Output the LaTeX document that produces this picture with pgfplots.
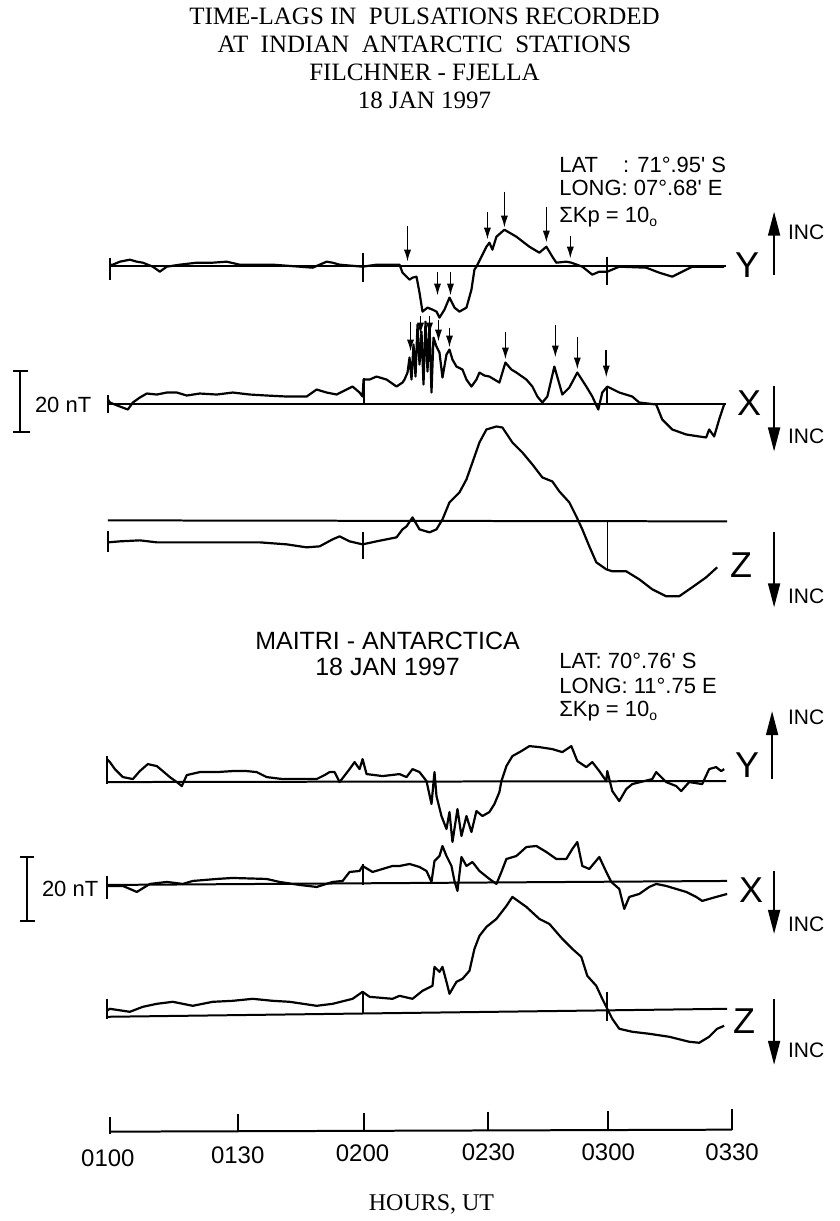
\documentclass[border=0pt]{standalone}
\usepackage{fontspec}
\setmainfont{Liberation Serif}
\newfontfamily\hv{Liberation Sans}
\usepackage{pgfplots}
\pgfplotsset{compat=1.18}
\usetikzlibrary{arrows.meta}

\newcommand{\kp}{ΣKp = 10\raisebox{-0.35ex}{\fontsize{7}{7}\selectfont o}}

\tikzset{
  trace/.style={black, line width=1.1pt, line join=round},
  base/.style={black, line width=1pt},
  arr/.style={black, line width=0.8pt, -{Latex[length=6pt,width=3.6pt]}},
  big/.style={black, line width=0.9pt, -{Triangle[length=12pt,width=6pt]}},
  ttl/.style={font=\fontsize{12.5}{14}\selectfont},
  lab/.style={font=\hv\fontsize{11}{13}\selectfont, anchor=west},
  xyz/.style={font=\hv\fontsize{18}{20}\selectfont},
  inc/.style={font=\hv\fontsize{10.5}{12}\selectfont, anchor=west},
  hr/.style={font=\hv\fontsize{12}{14}\selectfont},
}

\begin{document}
\begin{tikzpicture}
\begin{axis}[
  scale only axis, width=420pt, height=610.5pt,
  xmin=0, xmax=840, ymin=0, ymax=1221, y dir=reverse,
  hide axis, clip=false, every axis plot/.append style={no markers},
]
% frame of the page (pixel units, y downwards)
\addplot[draw=none] coordinates {(0,0) (840,1221)};

% ---------------- FILCHNER ----------------
% Y
\addplot[base] coordinates {(110,266) (727,266)};
\addplot[base] coordinates {(110,258) (110,280)};
\addplot[base] coordinates {(363,253) (363,282)};
\addplot[base] coordinates {(608,257) (608,285)};
\addplot[trace] coordinates {
(110,265) (113,265) (120,262) (130,260) (137,262) (143,263) (153,267) (160,272)
(167,267) (180,265) (197,263) (213,263) (227,262) (240,265) (273,265) (300,267)
(313,268) (320,265) (327,262) (333,263) (340,265) (363,267) (377,265) (400,265)
(403,273) (408,278) (410,280) (413,278) (417,277) (420,293) (423,312) (428,308)
(433,310) (437,312) (440,318) (445,310) (450,298) (455,308) (460,312) (467,308)
(472,290) (475,270) (477,267) (482,257) (487,247) (490,243) (493,250) (497,237)
(505,230) (517,237) (530,247) (540,253) (547,247) (553,257) (557,263) (567,262)
(572,263) (583,267) (593,275) (600,272) (608,272) (620,267) (647,268) (660,273)
(673,277) (683,272) (693,267) (725,267)};
% X
\addplot[base] coordinates {(108,404) (727,404)};
\addplot[base] coordinates {(108,395) (108,413)};
\addplot[base] coordinates {(364,378) (364,404)};
\addplot[base] coordinates {(608,387) (608,404)};
\addplot[trace] coordinates {
(108,400) (110,403) (120,407) (128,410) (133,403) (140,398) (147,394) (157,395)
(167,393) (177,393) (187,396) (200,394) (217,395) (233,393) (250,395) (267,396)
(287,397) (307,397) (317,390) (327,393) (337,395) (347,390) (353,387) (360,393)
(363,397) (364,380) (370,380) (377,377) (387,380) (397,387) (403,383) (405,380)
(408,373) (410,358) (412,380) (414,345) (416,377) (418,325) (420,365) (422,332)
(424,385) (426,322) (428,372) (430,324) (432,393) (434,338) (437,347) (440,353)
(443,378) (447,355) (450,350) (453,360) (457,367) (463,370) (467,380) (472,387)
(477,380) (480,373) (485,376) (490,377) (500,383) (506,363) (512,370) (517,373)
(527,380) (533,387) (538,397) (543,403) (548,397) (555,367) (563,395) (570,388)
(578,373) (587,387) (593,397) (599,410) (603,393) (608,387) (620,393) (633,397)
(640,403) (657,405) (663,420) (673,430) (687,435) (700,437) (707,438) (710,430)
(715,437) (720,420) (725,405)};
% Z
\addplot[base] coordinates {(108,521) (728,522)};
\addplot[base] coordinates {(108,532) (108,553)};
\addplot[base] coordinates {(363,533) (363,560)};
\addplot[black, line width=0.6pt] coordinates {(608,523) (608,572)};
\addplot[trace] coordinates {
(108,543) (120,542) (140,541) (157,543) (180,543) (207,543) (233,543) (260,543)
(287,545) (307,548) (320,547) (333,540) (340,537) (350,542) (363,545) (377,542)
(397,538) (403,530) (407,527) (413,518) (420,530) (430,533) (437,530) (443,520)
(450,503) (460,493) (467,480) (473,463) (480,443) (487,430) (497,427) (503,428)
(513,443) (523,453) (533,465) (543,478) (553,482) (560,492) (570,503) (577,517)
(583,530) (590,547) (597,563) (607,570) (613,572) (627,572) (640,580) (653,590)
(667,597) (680,597) (693,588) (707,578) (718,568)};
% pulsation arrows
\addplot[arr] coordinates {(408,226) (408,262)};
\addplot[arr] coordinates {(438,272) (438,296)};
\addplot[arr] coordinates {(451,272) (451,296)};
\addplot[arr] coordinates {(488,212) (488,240)};
\addplot[arr] coordinates {(505,192) (505,228)};
\addplot[arr] coordinates {(547,207) (547,243)};
\addplot[arr] coordinates {(571,236) (571,259)};
\addplot[arr] coordinates {(411,322) (411,352)};
\addplot[arr] coordinates {(421,316) (421,335)};
\addplot[arr] coordinates {(430,316) (430,335)};
\addplot[arr] coordinates {(439,320) (439,342)};
\addplot[arr] coordinates {(450,328) (450,348)};
\addplot[arr] coordinates {(506,332) (506,360)};
\addplot[arr] coordinates {(556,325) (556,358)};
\addplot[arr] coordinates {(578,337) (578,370)};
\addplot[arr] coordinates {(607,350) (607,378)};
% scale bar
\addplot[base] coordinates {(20,371) (20,433)};
\addplot[base] coordinates {(13,371) (28,371)};
\addplot[base] coordinates {(13,433) (30,433)};
% direction arrows
\addplot[big] coordinates {(775,275) (775,212)};
\addplot[big] coordinates {(775,386) (775,452)};
\addplot[big] coordinates {(775,533) (775,608)};

% ---------------- MAITRI ----------------
% Y
\addplot[base] coordinates {(107,783) (727,782)};
\addplot[base] coordinates {(107,757) (107,785)};
\addplot[trace] coordinates {
(107,760) (110,763) (115,770) (123,778) (133,780) (140,772) (148,765) (157,767)
(163,772) (170,778) (177,783) (182,787) (187,776) (200,773) (217,773) (233,772)
(247,772) (257,773) (267,778) (283,780) (317,780) (325,776) (330,773) (335,773)
(340,783) (350,770) (355,763) (360,770) (363,760) (367,775) (383,777) (400,775)
(407,778) (413,770) (420,773) (427,782) (432,805) (435,773) (437,797) (442,817)
(447,830) (450,813) (453,843) (458,810) (462,837) (467,817) (472,833) (477,812)
(483,817) (490,813) (495,805) (500,793) (502,782) (507,767) (513,757) (522,752)
(530,747) (540,748) (553,750) (563,753) (572,747) (578,762) (587,768) (593,763)
(600,772) (607,782) (608,772) (613,792) (620,802) (627,790) (633,785) (653,780)
(657,773) (667,783) (677,787) (682,792) (690,783) (703,785) (710,770) (717,768)
(722,772) (725,770)};
% X
\addplot[base] coordinates {(107,886) (728,882)};
\addplot[base] coordinates {(107,877) (107,900)};
\addplot[base] coordinates {(363,865) (363,886)};
\addplot[trace] coordinates {
(107,887) (123,887) (137,893) (150,885) (167,883) (183,885) (193,882) (217,880)
(233,879) (267,880) (280,883) (300,886) (317,888) (333,883) (343,882) (350,873)
(360,872) (363,867) (373,873) (383,870) (393,867) (400,867) (410,865) (420,868)
(427,872) (432,883) (435,862) (440,857) (443,847) (447,857) (452,867) (455,882)
(458,892) (462,858) (467,867) (473,863) (480,872) (490,880) (497,885) (502,873)
(507,860) (517,857) (527,848) (537,847) (547,853) (557,860) (567,860) (573,850)
(578,843) (583,867) (590,870) (600,858) (607,873) (612,883) (620,890) (625,910)
(630,898) (640,895) (650,888) (657,885) (667,887) (677,890) (687,893) (697,898)
(703,902) (717,898) (728,895)};
% Z
\addplot[base] coordinates {(107,1018) (728,1010)};
\addplot[base] coordinates {(107,1000) (107,1020)};
\addplot[base] coordinates {(363,993) (363,1015)};
\addplot[base] coordinates {(608,993) (608,1022)};
\addplot[trace] coordinates {
(107,1012) (110,1010) (130,1013) (143,1008) (157,1005) (173,1003) (193,1007)
(213,1003) (233,1002) (253,1000) (273,1002) (290,1003) (317,1007) (333,1005)
(353,1000) (363,993) (370,998) (393,1000) (400,997) (413,1000) (423,992)
(433,987) (435,968) (440,973) (443,968) (447,983) (450,995) (457,983) (463,980)
(470,972) (475,950) (480,937) (487,928) (497,920) (507,907) (513,898) (527,908)
(540,920) (550,925) (563,940) (573,950) (582,958) (588,977) (597,987) (603,1000)
(608,1010) (613,1020) (620,1030) (633,1033) (650,1035) (670,1038) (690,1043)
(700,1044) (710,1038) (718,1030) (725,1027)};
% scale bar
\addplot[base] coordinates {(27,858) (27,922)};
\addplot[base] coordinates {(20,858) (34,858)};
\addplot[base] coordinates {(20,922) (35,922)};
% direction arrows
\addplot[big] coordinates {(773,780) (773,712)};
\addplot[big] coordinates {(775,872) (775,935)};
\addplot[big] coordinates {(775,1000) (775,1066)};

% ---------------- time axis ----------------
\addplot[base] coordinates {(110,1133) (733,1131)};
\addplot[base] coordinates {(110,1118) (110,1135)};
\addplot[base] coordinates {(238,1115) (238,1133)};
\addplot[base] coordinates {(364,1114) (364,1133)};
\addplot[base] coordinates {(489,1113) (489,1132)};
\addplot[base] coordinates {(609,1112) (609,1132)};
\addplot[base] coordinates {(733,1110) (733,1131)};

% ---------------- texts ----------------
\node[ttl] at (axis cs:425,16) {TIME-LAGS IN\ \ PULSATIONS RECORDED};
\node[ttl] at (axis cs:425,44) {AT\ \ INDIAN\ \ ANTARCTIC\ \ STATIONS};
\node[ttl] at (axis cs:425,72) {FILCHNER - FJELLA};
\node[ttl] at (axis cs:425,100) {18 JAN 1997};

\node[lab] at (axis cs:553,165) {\makebox[2.9em][l]{LAT}: 71°.95' S};
\node[lab] at (axis cs:553,188) {LONG: 07°.68' E};
\node[lab] at (axis cs:553,217) {\kp};

\node[font=\hv\fontsize{12.5}{14}\selectfont] at (axis cs:388,642) {MAITRI - ANTARCTICA};
\node[font=\hv\fontsize{12.5}{14}\selectfont] at (axis cs:388,668) {18 JAN 1997};
\node[lab] at (axis cs:553,662) {LAT: 70°.76' S};
\node[lab] at (axis cs:553,687) {LONG: 11°.75 E};
\node[lab] at (axis cs:553,712) {\kp};

\node[xyz] at (axis cs:748,265) {Y};
\node[xyz] at (axis cs:750,404) {X};
\node[xyz] at (axis cs:742,566) {Z};
\node[xyz] at (axis cs:748,766) {Y};
\node[xyz] at (axis cs:752,891) {X};
\node[xyz] at (axis cs:745,1022) {Z};
\node[inc] at (axis cs:782,233) {INC};
\node[inc] at (axis cs:782,437) {INC};
\node[inc] at (axis cs:782,597) {INC};
\node[inc] at (axis cs:782,718) {INC};
\node[inc] at (axis cs:782,925) {INC};
\node[inc] at (axis cs:782,1052) {INC};

\node[font=\hv\fontsize{11}{13}\selectfont, anchor=west] at (axis cs:28,405) {20 nT};
\node[font=\hv\fontsize{11}{13}\selectfont, anchor=west] at (axis cs:35,890) {20 nT};

\node[hr] at (axis cs:108,1160) {0100};
\node[hr] at (axis cs:238,1157) {0130};
\node[hr] at (axis cs:363,1155) {0200};
\node[hr] at (axis cs:489,1154) {0230};
\node[hr] at (axis cs:609,1154) {0300};
\node[hr] at (axis cs:733,1154) {0330};
\node[font=\fontsize{12}{14}\selectfont] at (axis cs:432,1206) {HOURS, UT};
\end{axis}
\end{tikzpicture}
\end{document}
